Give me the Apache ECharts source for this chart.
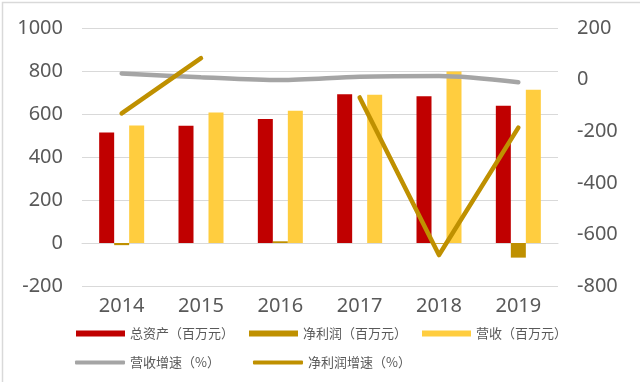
<!DOCTYPE html>
<html>
<head>
<meta charset="utf-8">
<script src="https://cdn.jsdelivr.net/npm/echarts@6/dist/echarts.min.js"></script>
<style>
html,body{margin:0;padding:0;background:#fff;}
#chart{width:640px;height:382px;}
</style>
</head>
<body>
<div id="chart"></div>
<script>
var years = ['2014', '2015', '2016', '2017', '2018', '2019'];
var totalAssets = [514, 545, 577, 692, 683, 638];
var netProfit = [-10, 0, 8, 0, -3, -68];
var revenue = [546, 607, 615, 689, 798, 713];
var revenueGrowth = [24, 9, -2, 11, 14, -10];
var profitGrowth = [-131, 83, null, -69, -680, -186];
var leftTicks = { min: -200, max: 1000, interval: 200 };
var rightTicks = { min: -800, max: 200, interval: 200 };

var chart = echarts.init(document.getElementById('chart'), null, { renderer: 'canvas' });
var labelFont = { color: '#595959', fontSize: 20, fontFamily: 'Noto Sans' };
var legendText = { color: '#595959', fontSize: 13, fontFamily: 'Noto Sans CJK SC' };
function plain(v) { return String(v); }

chart.setOption({
  backgroundColor: '#ffffff',
  animation: false,
  graphic: [{
    type: 'rect', left: 0, top: 0, silent: true,
    shape: { x: 0.5, y: 0.5, width: 639, height: 381 },
    style: { fill: 'none', stroke: '#d9d9d9', lineWidth: 1.5 }
  }],
  grid: { left: 82, right: 82, top: 28, bottom: 96, containLabel: false },
  legend: [{
    data: ['总资产（百万元）', '净利润（百万元）', '营收（百万元）'],
    left: 71, top: 322, itemWidth: 49, itemHeight: 6, itemGap: 15,
    icon: 'rect', textStyle: legendText
  }, {
    data: ['营收增速（%）', '净利润增速（%）'],
    left: 70, top: 351, itemWidth: 50, itemHeight: 4, itemGap: 33,
    icon: 'roundRect', textStyle: legendText
  }],
  xAxis: {
    type: 'category', data: years,
    axisLine: { show: true, onZero: true, lineStyle: { color: '#d9d9d9', width: 1 } },
    axisTick: { show: false },
    axisLabel: Object.assign({ margin: 10 }, labelFont)
  },
  yAxis: [{
    type: 'value', min: leftTicks.min, max: leftTicks.max, interval: leftTicks.interval,
    axisLine: { show: false }, axisTick: { show: false },
    axisLabel: Object.assign({ margin: 19, formatter: plain }, labelFont),
    splitLine: { show: true, lineStyle: { color: '#d9d9d9', width: 1 } }
  }, {
    type: 'value', min: rightTicks.min, max: rightTicks.max, interval: rightTicks.interval,
    axisLine: { show: false }, axisTick: { show: false },
    axisLabel: Object.assign({ margin: 19, formatter: plain }, labelFont),
    splitLine: { show: false }
  }],
  series: [{
    name: '总资产（百万元）', type: 'bar', data: totalAssets, yAxisIndex: 0,
    barWidth: 15, barGap: '0%', itemStyle: { color: '#C00000' }
  }, {
    name: '净利润（百万元）', type: 'bar', data: netProfit, yAxisIndex: 0,
    barWidth: 15, barGap: '0%', itemStyle: { color: '#BF9000' }
  }, {
    name: '营收（百万元）', type: 'bar', data: revenue, yAxisIndex: 0,
    barWidth: 15, barGap: '0%', itemStyle: { color: '#FFCD3F' }
  }, {
    name: '营收增速（%）', type: 'line', data: revenueGrowth, yAxisIndex: 1,
    symbol: 'none', smooth: 0.3, itemStyle: { color: '#A5A5A5' },
    lineStyle: { color: '#A5A5A5', width: 4.5, cap: 'round' }
  }, {
    name: '净利润增速（%）', type: 'line', data: profitGrowth, yAxisIndex: 1,
    symbol: 'none', connectNulls: false, itemStyle: { color: '#BF9000' },
    lineStyle: { color: '#BF9000', width: 4.5, cap: 'round', join: 'round' }
  }]
});
</script>
</body>
</html>
